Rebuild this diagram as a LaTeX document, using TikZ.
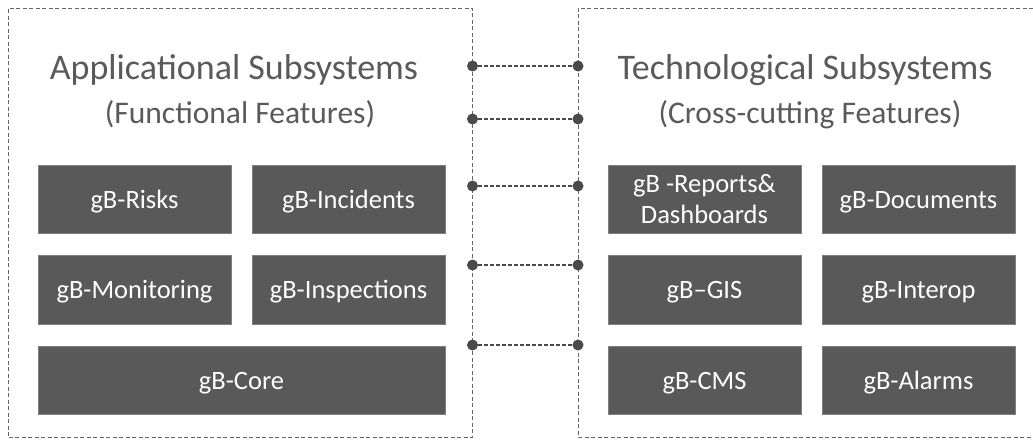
\documentclass[tikz,border=0pt]{standalone}
\usepackage{fontspec}
\setmainfont{Carlito}
\definecolor{boxgray}{HTML}{595959}
\definecolor{edgegray}{HTML}{7F7F7F}
\definecolor{titlegray}{HTML}{5A5A5A}
\definecolor{linegray}{HTML}{666666}
\definecolor{dotgray}{HTML}{4A4A4A}
\begin{document}
\begin{tikzpicture}[x=1pt,y=-1pt,
  outerline/.style={draw=linegray,line width=1pt,dash pattern=on 4pt off 2.5pt},
  conn/.style={draw=dotgray,line width=1.3pt,dash pattern=on 4pt off 2pt},
  dot/.style={circle,fill=dotgray,inner sep=0pt,minimum size=11pt},
  subbox/.style={rectangle,fill=boxgray,draw=edgegray,line width=0.7pt,inner sep=0pt,
    minimum height=68.5pt,text=white,font=\fontsize{26.5}{31}\selectfont},
  one/.style={text height=17pt,text depth=0pt},
  halfw/.style={minimum width=193pt},
  title/.style={text=titlegray,anchor=base,inner sep=0pt,font=\fontsize{36}{40}\selectfont},
  subtitle/.style={text=titlegray,anchor=base,inner sep=0pt,font=\fontsize{31.5}{36}\selectfont}]
\useasboundingbox (0,0) rectangle (1033,439);
\fill[white] (0,0) rectangle (1033,439);

% outer dashed frames
\node[outerline,rectangle,inner sep=0pt,minimum width=464pt,minimum height=429pt] (appframe) at (240.5,222.5) {};
\coordinate (tfTR) at (1033,8);
\coordinate (tfTL) at (578,8);
\coordinate (tfBL) at (578,437);
\coordinate (tfBR) at (1033,437);
\draw[outerline] (tfTR) -- (tfTL) -- (tfBL) -- (tfBR);

% titles
\node[title] (apptitle) at (234,79) {Applicational Subsystems};
\node[subtitle] (appsub) at (240,123) {(Functional Features)};
\node[title] (techtitle) at (805,79) {Technological Subsystems};
\node[subtitle] (techsub) at (810,123) {(Cross-cutting Features)};

% left subsystem boxes
\node[subbox,halfw,one] (risks) at (134.5,199.5) {gB-Risks};
\node[subbox,halfw,one] (incidents) at (348.5,199.5) {gB-Incidents};
\node[subbox,halfw,one] (monitoring) at (134.5,290) {gB-Monitoring};
\node[subbox,halfw,one] (inspections) at (348.5,290) {gB-Inspections};
\node[subbox,minimum width=407pt,one] (core) at (241.5,380.5) {gB-Core};

% right subsystem boxes
\node[subbox,halfw,align=center] (reports) at (704.5,199.5) {gB -Reports\&\\Dashboards};
\node[subbox,halfw,one] (documents) at (918.5,199.5) {gB-Documents};
\node[subbox,halfw,one] (gis) at (704.5,290) {gB--GIS};
\node[subbox,halfw,one] (interop) at (918.5,290) {gB-Interop};
\node[subbox,halfw,one] (cms) at (704.5,380.5) {gB-CMS};
\node[subbox,halfw,one] (alarms) at (918.5,380.5) {gB-Alarms};

% connector dots
\foreach \i/\yy in {1/66,2/119,3/186,4/265,5/345}{
  \node[dot] (l\i) at (472.5,\yy) {};
  \node[dot] (r\i) at (578,\yy) {};
  \draw[conn] (l\i) -- (r\i);
}
\end{tikzpicture}
\end{document}
